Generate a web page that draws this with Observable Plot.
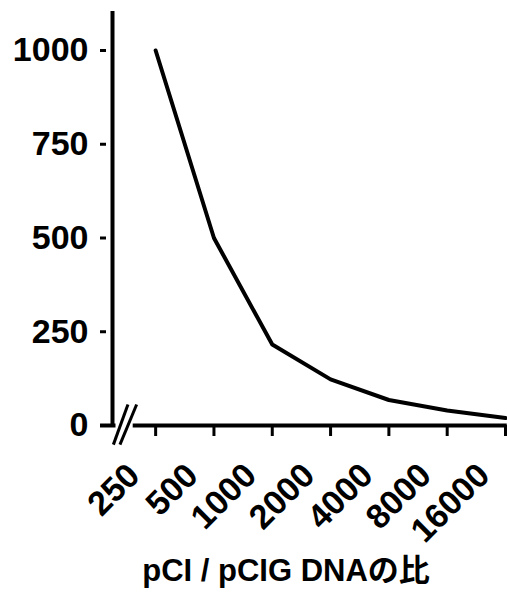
<!DOCTYPE html>
<html>
<head>
<meta charset="utf-8">
<script src="https://cdn.jsdelivr.net/npm/d3@7"></script>
<script src="https://cdn.jsdelivr.net/npm/@observablehq/plot@0.6"></script>
<style>
  html, body { margin: 0; padding: 0; background: #fff; }
</style>
</head>
<body>
<div id="chart"></div>
<script>
// Data
const ratioLabels = ["250", "500", "1000", "2000", "4000", "8000", "16000"];
const values = [1000, 500, 216, 123, 68, 40, 20];
const yTicks = [0, 250, 500, 750, 1000];
const xTitle = "pCI / pCIG DNAの比";

// Axis layout (in data units)
const xDomain = [-0.74, 6];
const yDomain = [0, 1104];
const axisSegments = [
  {x1: -0.945, x2: -0.68, y: 0},
  {x1: -0.385, x2: 6.03, y: 0}
];
const breakSlashes = [
  {x1: -0.725, y1: -51, x2: -0.475, y2: 56},
  {x1: -0.612, y1: -51, x2: -0.326, y2: 56}
];

const idx = d3.range(ratioLabels.length);
const font = "'Liberation Sans', Arial, 'Noto Sans CJK JP', sans-serif";

const chart = Plot.plot({
  width: 507,
  height: 596,
  marginLeft: 112,
  marginRight: 2,
  marginTop: 11,
  marginBottom: 171,
  x: {domain: xDomain},
  y: {domain: yDomain},
  style: {fontFamily: font, color: "black", background: "white", overflow: "visible"},
  marks: [
    Plot.axisY(yTicks, {
      tickSize: 6, dx: -6, tickPadding: 12, strokeWidth: 3,
      tickFormat: d => String(d),
      fontSize: 34, fontWeight: "bold", label: null
    }),
    Plot.axisX(idx, {
      tickSize: 11, strokeWidth: 3, tickFormat: () => "", label: null
    }),
    Plot.ruleX([xDomain[0]], {y1: -4, y2: yDomain[1], strokeWidth: 4, stroke: "black"}),
    Plot.ruleY(axisSegments, {y: "y", x1: "x1", x2: "x2", strokeWidth: 4, stroke: "black"}),
    Plot.link(breakSlashes, {x1: "x1", y1: "y1", x2: "x2", y2: "y2", strokeWidth: 3, stroke: "black"}),
    Plot.line(idx, {x: i => i, y: i => values[i], stroke: "black", strokeWidth: 4}),
    Plot.text(idx, {
      x: i => i, frameAnchor: "bottom", text: i => ratioLabels[i],
      rotate: -45, textAnchor: "end", lineAnchor: "bottom",
      dx: -14, dy: 52, fontSize: 34, fontWeight: "bold", fill: "black"
    }),
    Plot.text([xTitle], {
      frameAnchor: "bottom", text: d => d, dx: -23, dy: 155,
      lineAnchor: "bottom", fontSize: 31, fontWeight: "bold", fill: "black"
    })
  ]
});

document.getElementById("chart").append(chart);
</script>
</body>
</html>
